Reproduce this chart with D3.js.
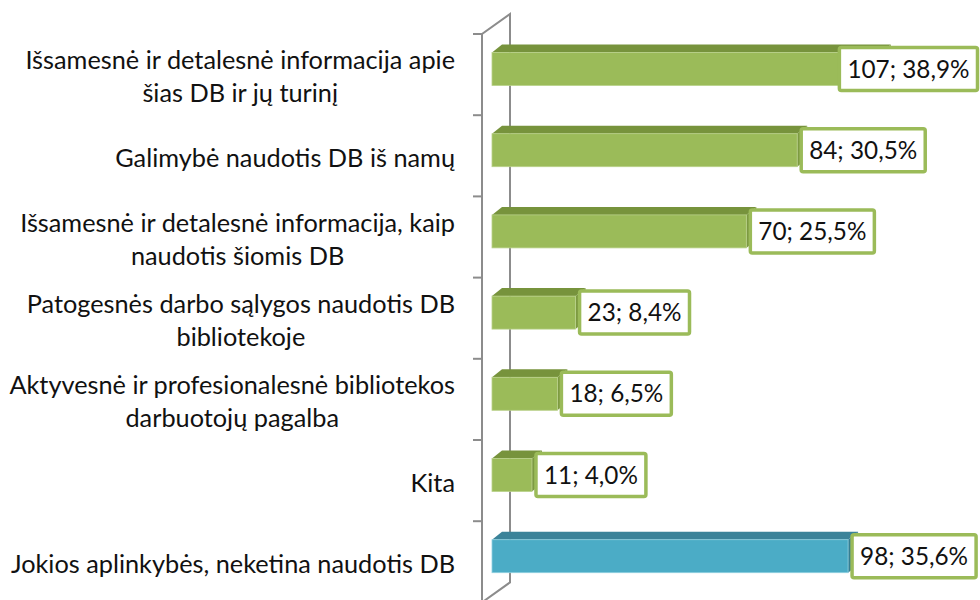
<!DOCTYPE html>
<meta charset="utf-8">
<script src="https://d3js.org/d3.v7.min.js"></script>
<style>
  body { margin: 0; background: #fff; }
  text { font-family: Lato, "Noto Sans", sans-serif; fill: #111; }
</style>
<div id="chart"></div>
<script>
  // data
  var categories = [
    ["Išsamesnė ir detalesnė informacija apie", "šias DB ir jų turinį"],
    ["Galimybė naudotis DB iš namų"],
    ["Išsamesnė ir detalesnė informacija, kaip", "naudotis šiomis DB"],
    ["Patogesnės darbo sąlygos naudotis DB", "bibliotekoje"],
    ["Aktyvesnė ir profesionalesnė bibliotekos", "darbuotojų pagalba"],
    ["Kita"],
    ["Jokios aplinkybės, neketina naudotis DB"]
  ];
  var counts = [107, 84, 70, 23, 18, 11, 98];
  var percents = ["38,9%", "30,5%", "25,5%", "8,4%", "6,5%", "4,0%", "35,6%"];
  var highlight = [false, false, false, false, false, false, true];

  var width = 980, height = 600;
  var depthX = 10, depthY = 8;       // 3d offset of the bars
  var wallX = 28, wallY = 20;        // 3d offset of the wall

  var svg = d3.select("#chart").append("svg")
      .attr("width", width)
      .attr("height", height);

  var idx = d3.range(categories.length);

  var y = d3.scaleBand()
    .domain(idx)
    .range([34, 602.4])
    .padding(0);

  var x = d3.scaleLinear()
    .domain([0, 120])
    .range([492, 928]);

  var axisX = 482;

  // wall (left side)
  var wall = svg.append("g")
    .attr("fill", "none")
    .attr("stroke", "#8c8c8c")
    .attr("stroke-width", 2);
  wall.append("path")
    .attr("d", "M" + axisX + "," + (y.range()[1] + 2) + "V" + y.range()[0] +
               "L" + (axisX + wallX) + "," + (y.range()[0] - wallY) +
               "V" + (y.range()[1] - wallY) +
               "L" + axisX + "," + y.range()[1]);
  wall.selectAll("line.tick")
    .data(idx.concat([idx.length]))
    .enter().append("line")
      .attr("class", "tick")
      .attr("x1", axisX - 9)
      .attr("x2", axisX)
      .attr("y1", function(i) { return i < idx.length ? y(i) : y.range()[1]; })
      .attr("y2", function(i) { return i < idx.length ? y(i) : y.range()[1]; });

  // category labels
  var lineH = 33;
  var lab = svg.append("g").selectAll("g")
    .data(idx)
    .enter().append("g");

  lab.each(function(i) {
    var g = d3.select(this);
    var lines = categories[i];
    var cy = y(i) + y.bandwidth() / 2 + 3;
    var t = g.append("text")
      .attr("font-size", 25.3)
      .attr("text-anchor", "middle");
    lines.forEach(function(s, k) {
      t.append("tspan")
        .attr("x", 0)
        .attr("y", cy + (k - (lines.length - 1) / 2) * lineH)
        .attr("dy", "0.33em")
        .text(s);
    });
    // right-align block, lines centred inside it
    var w = t.node().getBBox().width;
    t.attr("transform", "translate(" + (455 - w / 2) + ",0)");
  });

  // bars
  var barTop = function(i) { return y(i) + 18.5; };
  var barH = 33;

  var bars = svg.append("g").selectAll("g")
    .data(idx)
    .enter().append("g");

  bars.each(function(i) {
    var g = d3.select(this);
    var x0 = x(0), x1 = x(counts[i]);
    var y0 = barTop(i), y1 = y0 + barH;
    var front = highlight[i] ? "#4bacc6" : "#9bbb59";
    var top = highlight[i] ? "#3b8399" : "#77933c";
    var side = highlight[i] ? "#357e93" : "#7d9a42";

    g.append("path")
      .attr("d", "M" + x0 + "," + y0 + "L" + (x0 + depthX) + "," + (y0 - depthY) +
                 "H" + (x1 + depthX) + "L" + x1 + "," + y0 + "Z")
      .attr("fill", top);
    g.append("path")
      .attr("d", "M" + x1 + "," + y0 + "L" + (x1 + depthX) + "," + (y0 - depthY) +
                 "V" + (y1 - depthY) + "L" + x1 + "," + y1 + "Z")
      .attr("fill", side);
    g.append("rect")
      .attr("x", x0)
      .attr("y", y0)
      .attr("width", x1 - x0)
      .attr("height", barH)
      .attr("fill", front)
      .attr("stroke", highlight[i] ? "#8fd0e0" : "#b9d189")
      .attr("stroke-width", 0.8);
  });

  // data labels
  var boxes = svg.append("g").selectAll("g")
    .data(idx)
    .enter().append("g");

  boxes.each(function(i) {
    var g = d3.select(this);
    var rect = g.append("rect");
    var t = g.append("text")
      .attr("font-size", 24.3)
      .attr("text-anchor", "middle")
      .attr("dy", "0.35em")
      .text(counts[i] + "; " + percents[i]);
    var w = t.node().getComputedTextLength() + 16;
    var h = 43;
    var bx = Math.min(x(counts[i]) + 4, width - 2.5 - w);
    var cy = barTop(i) + barH / 2;
    rect.attr("x", bx)
      .attr("y", cy - h / 2)
      .attr("width", w)
      .attr("height", h)
      .attr("rx", 2)
      .attr("fill", "#fff")
      .attr("stroke", "#9bbb59")
      .attr("stroke-width", 3.5);
    t.attr("x", bx + w / 2).attr("y", cy);
  });
</script>
